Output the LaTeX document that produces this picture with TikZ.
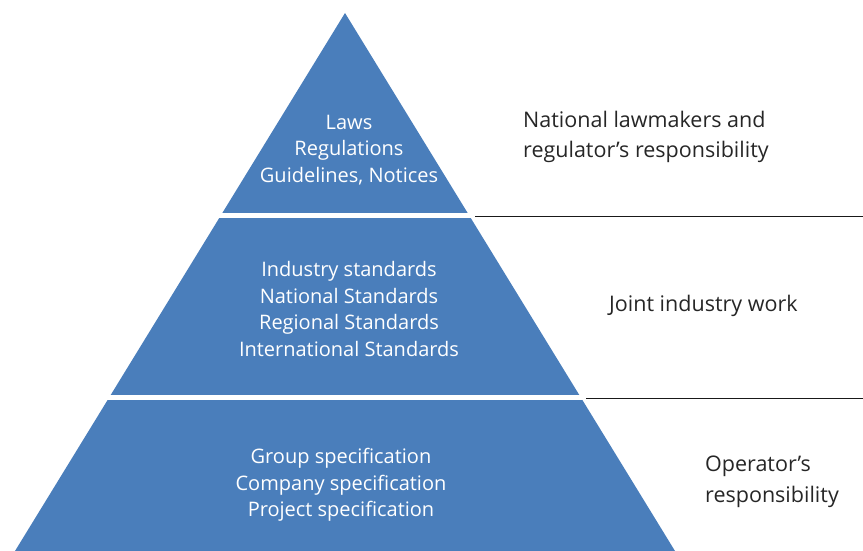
\documentclass[tikz,border=0pt]{standalone}
\usepackage{fontspec}
\setmainfont{Open Sans}
\usepackage{tikz}
\usetikzlibrary{positioning}
\definecolor{pyrblue}{RGB}{74,126,187}
\tikzset{
  tiertext/.style={align=center, text=white, font=\fontsize{20}{26.6}\selectfont, inner sep=0pt},
  sidetext/.style={align=left, text=black!85, font=\fontsize{21.5}{30.5}\selectfont, inner sep=0pt, anchor=west},
  divider/.style={black!90, line width=1.8pt}
}
\begin{document}
\begin{tikzpicture}[x=1pt,y=-1pt]
  \useasboundingbox (0,0) rectangle (863,551);

  % Pyramid
  \coordinate (apex) at (345,13);
  \coordinate (baseL) at (15,551);
  \coordinate (baseR) at (675,551);
  \fill[pyrblue] (apex) -- (baseR) -- (baseL) -- cycle;

  % White gaps between tiers
  \draw[white, line width=5pt] (200,215.5) -- (471,215.5);
  \draw[white, line width=5pt] (80,397.5) -- (584,397.5);

  % Dividers to the right
  \coordinate (divA) at (475,216.5);
  \coordinate (divB) at (586,398.5);
  \draw[divider] (divA) -- (863,216.5);
  \draw[divider] (divB) -- (863,398.5);

  % Tier texts
  \node[tiertext] (top) at (349,150) {Laws\\Regulations\\Guidelines, Notices};
  \node[tiertext] (mid) at (349,309) {Industry standards\\National Standards\\Regional Standards\\International Standards};
  \node[tiertext] (low) at (341,485) {Group specification\\Company specification\\Project specification};

  % Responsibilities
  \node[sidetext] (law) at (523,137) {National lawmakers and\\regulator's responsibility};
  \node[sidetext] (joint) at (609,306) {Joint industry work};
  \node[sidetext] (oper) at (705,482) {Operator's\\responsibility};
\end{tikzpicture}
\end{document}
